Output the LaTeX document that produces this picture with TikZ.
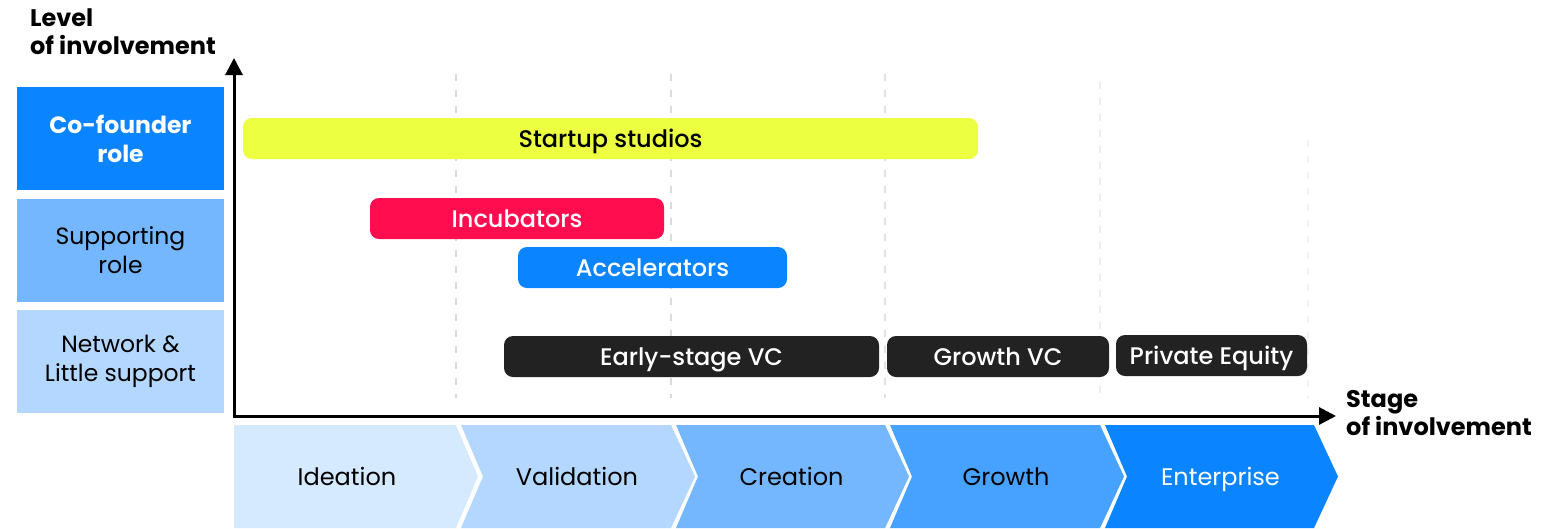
\documentclass[tikz,border=0pt]{standalone}
\usepackage{fontspec}
\setmainfont{Poppins}
\newfontfamily\mediumfont{Poppins Medium}
\usepackage{tikz}
\usetikzlibrary{arrows.meta,calc}

\definecolor{cofounder}{HTML}{0A84FF}
\definecolor{supporting}{HTML}{74B7FF}
\definecolor{network}{HTML}{B3D7FF}
\definecolor{ideation}{HTML}{D6EAFF}
\definecolor{growthstage}{HTML}{47A2FF}
\definecolor{studio}{HTML}{ECFF40}
\definecolor{incub}{HTML}{FF0D4F}
\definecolor{darkbar}{HTML}{222222}
\definecolor{gridgray}{HTML}{DADADA}

\tikzset{
  rolebox/.style={inner sep=0pt, minimum width=207pt, minimum height=103pt,
    align=center, font=\fontsize{23.5}{29}\selectfont},
  bar/.style={rounded corners=9pt, inner sep=0pt, minimum height=41pt,
    text height=20pt, text depth=3pt, font=\mediumfont\fontsize{24}{26}\selectfont},
  axistitle/.style={align=left, anchor=base west, inner sep=0pt,
    font=\bfseries\fontsize{24}{27.5}\selectfont},
  stagetext/.style={text height=20pt, text depth=3pt, font=\fontsize{24}{26}\selectfont}
}

\begin{document}
\begin{tikzpicture}[x=1pt, y=-1pt]
    \useasboundingbox (0,0) rectangle (1564,528);

    % the roles on the left
    \node[rolebox, fill=cofounder, text=white, font=\bfseries\fontsize{23.5}{29}\selectfont]
        (cofounder) at (120.5,138.5) {Co-founder\\role};
    \node[rolebox, fill=supporting] (supporting) at (120.5,250) {Supporting\\role};
    \node[rolebox, fill=network] (network) at (120.5,361.5) {Network \&\\Little support};

    % the dashed stage limits (fading to the right)
    \foreach \gx/\gy/\op in {456/74/100,671/74/100,885/74/80,1100/82/45,1308/140/35}
        \draw[gridgray!\op, line width=1.5pt, dash pattern=on 7pt off 9pt] (\gx,\gy) -- (\gx,398);

    % the stages (chevrons)
    \fill[ideation] (234,425) -- (456,425) -- (478,476.5) -- (456,528) -- (234,528) -- cycle;
    \node[stagetext] (ideation) at (347,477) {Ideation};
    \foreach \L/\R/\col/\name/\txt/\tcol in {
        461/671/network/validation/Validation/black,
        676/885/supporting/creation/Creation/black,
        890/1100/growthstage/growth/Growth/black,
        1105/1314/cofounder/enterprise/Enterprise/white} {
        \fill[\col] (\L,425) -- (\R,425) -- (\R+24,476.5) -- (\R,528) -- (\L,528)
            -- (\L+22,476.5) -- cycle;
        \node[stagetext, text=\tcol] (\name) at ({(\L+\R)/2+11},477) {\txt};
    }

    % the axes
    \coordinate (origin) at (234,416);
    \coordinate (ytop) at (234,58);
    \coordinate (xend) at (1336,416);
    \draw[line width=3pt, -{Triangle[length=17pt, width=17pt]}] ($(origin)+(0,1.5)$) -- (ytop);
    \draw[line width=3pt, -{Triangle[length=17pt, width=17pt]}] ($(origin)+(-1.5,0)$) -- (xend);
    % (base anchor sits on the last line)
    \node[axistitle] (level) at (30,54) {Level\\of involvement};
    \node[axistitle] (stage) at (1346,435) {Stage\\of involvement};

    % the players
    \node[bar, fill=studio, minimum width=735pt] (studios) at (610.5,138.5) {Startup studios};
    \node[bar, fill=incub, text=white, minimum width=294pt] (incubators) at (517,218.5) {Incubators};
    \node[bar, fill=cofounder, text=white, minimum width=269pt] (accelerators) at (652.5,267.5) {Accelerators};
    \node[bar, fill=darkbar, text=white, minimum width=375pt] (earlyvc) at (691.5,356.5) {Early-stage VC};
    \node[bar, fill=darkbar, text=white, minimum width=222pt] (growthvc) at (998,356.5) {Growth VC};
    \node[bar, fill=darkbar, text=white, minimum width=191pt] (equity) at (1211.5,355.5) {Private Equity};
\end{tikzpicture}
\end{document}
